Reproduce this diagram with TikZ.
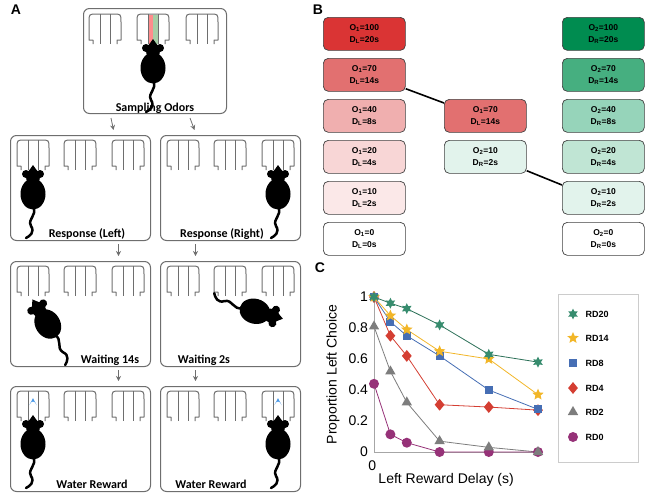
\documentclass[tikz,border=0pt]{standalone}
\usepackage{fontspec}
\setmainfont{Liberation Sans}
\newfontfamily\calfont{Carlito}
\usetikzlibrary{shapes.geometric,arrows.meta,positioning}
\definecolor{frame-gray}{RGB}{110,110,110}
\definecolor{red-100}{RGB}{218,52,52}
\definecolor{red-70}{RGB}{226,112,112}
\definecolor{red-40}{RGB}{240,175,175}
\definecolor{red-20}{RGB}{248,214,214}
\definecolor{red-10}{RGB}{251,232,232}
\definecolor{green-100}{RGB}{0,140,80}
\definecolor{green-70}{RGB}{70,175,128}
\definecolor{green-40}{RGB}{150,212,186}
\definecolor{green-20}{RGB}{192,229,212}
\definecolor{green-10}{RGB}{226,243,236}
\definecolor{rd20}{RGB}{55,140,110}
\definecolor{rd14}{RGB}{242,182,40}
\definecolor{rd8}{RGB}{70,110,180}
\definecolor{rd4}{RGB}{212,62,50}
\definecolor{rd2}{RGB}{125,125,125}
\definecolor{rd0}{RGB}{150,50,120}
\definecolor{drop}{RGB}{70,150,230}
\tikzset{
    stage/.style={draw=frame-gray, line width=1pt, rounded corners=6pt,
        minimum width=140pt, minimum height=105pt, anchor=north west},
    stagelabel/.style={font=\calfont\bfseries\fontsize{12}{12}\selectfont, anchor=base},
    flow/.style={draw=frame-gray, line width=0.8pt, -{Stealth[length=5pt,width=5pt]}},
    value/.style={draw=black!75, line width=0.7pt, rounded corners=5pt,
        minimum width=82pt, minimum height=33pt, align=center,
        font=\fontsize{8.5}{12}\selectfont\bfseries, inner sep=0pt, anchor=north west},
    link/.style={line width=1.6pt},
    pics/port/.style={code={
        \draw[frame-gray, line width=1pt, line join=round]
            (-12,30) -- (-12,26) -- (-16,26) -- (-16,8) .. controls (-16,0) .. (-8,0)
            -- (8,0) .. controls (16,0) .. (16,8) -- (16,26) -- (12,26) -- (12,30);
        \draw[frame-gray, line width=1pt] (-5,0) -- (-5,30) (5,0) -- (5,30);
    }},
    pics/mouse/.style={code={
        \fill (0,-3) -- (-5,4) -- (5,4) -- cycle;
        \fill (0,9) ellipse [x radius=7, y radius=8];
        \fill (-7,6) circle [radius=4] (7,6) circle [radius=4];
        \fill (0,26) ellipse [x radius=12.5, y radius=15.5];
        \draw[line width=2.5pt, line cap=round] (0,38) .. controls (5,48) and (-6,50) .. (-2,58)
            .. controls (2,64) and (-3,68) .. (-7,70);
    }},
    legtext/.style={font=\fontsize{9}{9}\selectfont\bfseries, anchor=west},
    tick/.style={font=\fontsize{14}{14}\selectfont},
    m20/.style={star, star points=6, star point ratio=1.9, fill=rd20, minimum size=11pt, inner sep=0pt},
    m14/.style={star, star points=5, star point ratio=2.2, fill=rd14, minimum size=12pt, inner sep=0pt},
    m8/.style={rectangle, fill=rd8, minimum size=8pt, inner sep=0pt},
    m4/.style={diamond, fill=rd4, minimum width=10pt, minimum height=12pt, inner sep=0pt},
    m2/.style={isosceles triangle, shape border rotate=90, isosceles triangle apex angle=60,
        fill=rd2, minimum size=9pt, inner sep=0pt},
    m0/.style={circle, fill=rd0, minimum size=10pt, inner sep=0pt}
}
\begin{document}
\begin{tikzpicture}[x=1pt, y=-1pt]
\useasboundingbox (0,0) rectangle (649,499);

% Panel letters
\node[font=\fontsize{14}{14}\selectfont\bfseries] (labA) at (16,10) {A};
\node[font=\fontsize{14}{14}\selectfont\bfseries] (labB) at (318,10) {B};
\node[font=\fontsize{14}{14}\selectfont\bfseries] (labC) at (320,268) {C};

% Panel A: stage frames
\node[stage, minimum width=143pt] (sample) at (83,8) {};
\node[stage] (respL) at (10,135) {};
\node[stage] (respR) at (160,135) {};
\node[stage] (waitL) at (10,261) {};
\node[stage] (waitR) at (160,261) {};
\node[stage] (rewL) at (10,386) {};
\node[stage] (rewR) at (160,386) {};

% Odor stripes
\fill[red!45] (148,15) rectangle (153,44);
\fill[green!45!black!35] (153,15) rectangle (158,44);

% Ports
\foreach \px in {105,153,202} \pic at (\px,14) {port};
\foreach \py in {140,266,391}
    \foreach \px in {33,80,128,183,230,278} \pic at (\px,\py) {port};

% Mice
\pic at (153,42) {mouse};
\pic at (33,168) {mouse};
\pic at (278,168) {mouse};
\pic at (33,418) {mouse};
\pic at (278,418) {mouse};
\pic[rotate=32] at (34,302) {mouse};
\pic[rotate=-105] at (280,318) {mouse};

% Water drops
\foreach \px in {33,278}
    \fill[drop] (\px,398) -- (\px-3.5,405) arc[start angle=180, end angle=360, radius=3.5] -- cycle;

% Stage labels
\node[stagelabel] (tSample) at (155,111) {Sampling Odors};
\node[stagelabel] (tRespL) at (87,237) {Response (Left)};
\node[stagelabel] (tRespR) at (222,237) {Response (Right)};
\node[stagelabel] (tWaitL) at (110,363) {Waiting 14s};
\node[stagelabel] (tWaitR) at (204,363) {Waiting 2s};
\node[stagelabel] (tRewL) at (92,488) {Water Reward};
\node[stagelabel] (tRewR) at (211,488) {Water Reward};

% Flow arrows
\draw[flow] ([xshift=-44pt, yshift=-4pt]sample.south) -- ([xshift=33pt, yshift=5pt]respL.north);
\draw[flow] ([xshift=35pt, yshift=-4pt]sample.south) -- ([xshift=-36pt, yshift=5pt]respR.north);
\draw[flow] ([xshift=38pt, yshift=-3pt]respL.south) -- ([xshift=38pt, yshift=5pt]waitL.north);
\draw[flow] ([xshift=-35pt, yshift=-3pt]respR.south) -- ([xshift=-35pt, yshift=5pt]waitR.north);
\draw[flow] ([xshift=38pt, yshift=-3pt]waitL.south) -- ([xshift=38pt, yshift=5pt]rewL.north);
\draw[flow] ([xshift=-35pt, yshift=-3pt]waitR.south) -- ([xshift=-35pt, yshift=5pt]rewR.north);

% Panel B: odor / delay values
\node[value, fill=red-100] (L100) at (323,17) {O\textsubscript{1}=100\\D\textsubscript{L}=20s};
\node[value, fill=red-70] (L70) at (323,58) {O\textsubscript{1}=70\\D\textsubscript{L}=14s};
\node[value, fill=red-40] (L40) at (323,99) {O\textsubscript{1}=40\\D\textsubscript{L}=8s};
\node[value, fill=red-20] (L20) at (323,140) {O\textsubscript{1}=20\\D\textsubscript{L}=4s};
\node[value, fill=red-10] (L10) at (323,181) {O\textsubscript{1}=10\\D\textsubscript{L}=2s};
\node[value, fill=white] (L0) at (323,222) {O\textsubscript{1}=0\\D\textsubscript{L}=0s};
\node[value, fill=green-100] (R100) at (562,17) {O\textsubscript{2}=100\\D\textsubscript{R}=20s};
\node[value, fill=green-70] (R70) at (562,58) {O\textsubscript{2}=70\\D\textsubscript{R}=14s};
\node[value, fill=green-40] (R40) at (562,99) {O\textsubscript{2}=40\\D\textsubscript{R}=8s};
\node[value, fill=green-20] (R20) at (562,140) {O\textsubscript{2}=20\\D\textsubscript{R}=4s};
\node[value, fill=green-10] (R10) at (562,181) {O\textsubscript{2}=10\\D\textsubscript{R}=2s};
\node[value, fill=white] (R0) at (562,222) {O\textsubscript{2}=0\\D\textsubscript{R}=0s};
\node[value, fill=red-70] (mixL) at (444,99) {O\textsubscript{1}=70\\D\textsubscript{L}=14s};
\node[value, fill=green-10] (mixR) at (444,140) {O\textsubscript{2}=10\\D\textsubscript{R}=2s};
\draw[link] ([yshift=3pt]L70.south east) -- ([yshift=-4pt]mixL.north west);
\draw[link] ([yshift=3pt]mixR.south east) -- ([yshift=-4pt]R10.north west);

% Panel C: choice curves
\begin{scope}[shift={(374,452)}, x=8.2pt, y=155pt]
    \draw[gray!70, line width=0.8pt] (0,1.02) -- (0,0) -- (20.6,0);
    \foreach \v/\t in {1/1,0.8/0.8,0.6/0.6,0.4/0.4,0.2/0.2,0/0}
        \node[tick, anchor=east] at (-0.3,\v) {\t};
    \node[tick, anchor=north] at (-0.2,-0.035) {0};
    \node[tick] (xlab) at (8.8,-0.18) {Left Reward Delay (s)};
    \node[tick, rotate=90] (ylab) at (-5.0,0.5) {Proportion Left Choice};
    \draw[rd20!80!black, line width=0.8pt] (0,1) -- (2,0.96) -- (4,0.925) -- (8,0.82) -- (14,0.63) -- (20,0.58);
    \draw[rd14, line width=0.8pt] (0,1) -- (2,0.88) -- (4,0.79) -- (8,0.65) -- (14,0.60) -- (20,0.37);
    \draw[rd8, line width=0.8pt] (0,1) -- (2,0.84) -- (4,0.75) -- (8,0.62) -- (14,0.40) -- (20,0.275);
    \draw[rd4, line width=0.8pt] (0,1) -- (2,0.75) -- (4,0.62) -- (8,0.305) -- (14,0.29) -- (20,0.27);
    \draw[rd2, line width=0.8pt] (0,0.81) -- (2,0.52) -- (4,0.32) -- (8,0.07) -- (14,0.03) -- (20,0);
    \draw[rd0, line width=0.8pt] (0,0.44) -- (2,0.114) -- (4,0.06) -- (8,0) -- (14,0) -- (20,0);
    \foreach \x/\y in {0/0.44,2/0.114,4/0.06,8/0,14/0,20/0} \node[m0] at (\x,\y) {};
    \foreach \x/\y in {0/0.81,2/0.52,4/0.32,8/0.07,14/0.03,20/0} \node[m2] at (\x,\y) {};
    \foreach \x/\y in {0/1,2/0.75,4/0.62,8/0.305,14/0.29,20/0.27} \node[m4] at (\x,\y) {};
    \foreach \x/\y in {0/1,2/0.84,4/0.75,8/0.62,14/0.40,20/0.275} \node[m8] at (\x,\y) {};
    \foreach \x/\y in {0/1,2/0.88,4/0.79,8/0.65,14/0.60,20/0.37} \node[m14] at (\x,\y) {};
    \foreach \x/\y in {0/1,2/0.96,4/0.925,8/0.82,14/0.63,20/0.58} \node[m20] at (\x,\y) {};
\end{scope}

% Legend
\node[draw=gray!40, line width=1pt, minimum width=80pt, minimum height=168pt, anchor=north west] (legend) at (558,294) {};
\foreach \m/\t/\yy in {m20/RD20/314, m14/RD14/338, m8/RD8/363, m4/RD4/388, m2/RD2/412, m0/RD0/437} {
    \node[\m] (key\t) at (573,\yy) {};
    \node[legtext] (txt\t) at (582,\yy) {\t};
}

\end{tikzpicture}
\end{document}
